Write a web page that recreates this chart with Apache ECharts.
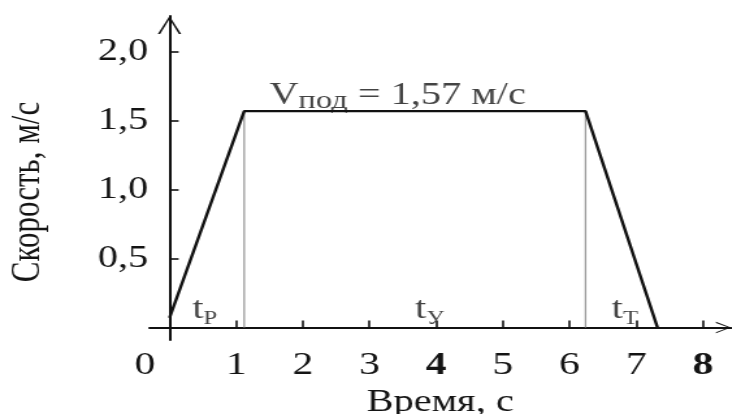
<!DOCTYPE html>
<html>
<head>
<meta charset="utf-8">
<script src="https://cdn.jsdelivr.net/npm/echarts@6/dist/echarts.min.js"></script>
<style>
  html, body { margin: 0; padding: 0; background: #fff; overflow: hidden; }
  #wrap { width: 732px; height: 414px; overflow: hidden; }
  /* the figure is set in a horizontally widened type, so the drawing is stretched on x */
  #chart { width: 563.08px; height: 414px; transform: scale(1.3, 1); transform-origin: 0 0; }
</style>
</head>
<body>
<div id="wrap"><div id="chart"></div></div>
<script>
// Lift speed profile: acceleration, steady motion, braking
const timePoints   = [0, 1.12, 6.24, 7.32];      // s
const speedPoints  = [0.07, 1.57, 1.57, 0];      // m/s
const phaseBounds  = [1.12, 6.24];               // ends of acceleration / start of braking
const steadySpeed  = 1.57;                       // V под, m/s
const phaseNames   = ['Р', 'У', 'Т'];            // t subscripts
const xTickValues  = [1, 2, 3, 4, 5, 6, 7, 8];
const xLabelValues = [0, 1, 2, 3, 4, 5, 6, 7, 8];
const yTickValues  = [0.5, 1.0, 1.5, 2.0];

const FONT = '"Liberation Serif", "Times New Roman", serif';
const INK = '#111';
const TXT = '#141414';

const fmtComma = (v, d) => v.toFixed(d).replace('.', ',');

const profile = timePoints.map((t, i) => [t, speedPoints[i]]);

// chevron arrow head (open arrow), pointing up in its own frame
const chevron = 'path://M0,100 L50,0 L100,100 L90,100 L50,16 L10,100 Z';

const markerSeries = phaseBounds.map(b => ({
  type: 'line',
  data: [[b, 0], [b, steadySpeed]],
  symbol: 'none',
  lineStyle: { color: '#9a9a9a', width: 1.3 },
  silent: true,
  z: 2
}));

const subRich = {
  m:  { fontFamily: FONT, fontSize: 31, color: TXT, lineHeight: 34, verticalAlign: 'bottom' },
  s:  { fontFamily: FONT, fontSize: 25, color: TXT, lineHeight: 34, verticalAlign: 'bottom', padding: [0, 0, -2, 0] },
  t:  { fontFamily: FONT, fontSize: 31, color: TXT, lineHeight: 32, verticalAlign: 'bottom' },
  ts: { fontFamily: FONT, fontSize: 19, color: TXT, lineHeight: 32, verticalAlign: 'bottom', padding: [0, 0, -3, 0] }
};

const phaseLabelX = [0.53, 3.9, 6.83];

const option = {
  backgroundColor: '#fff',
  animation: false,
  grid: { left: 115, right: 0.8, top: 16, bottom: 74, containLabel: false, outerBoundsMode: 'none' },
  xAxis: {
    type: 'value',
    min: -0.3,
    max: 8.42,
    name: 'Время, с',
    nameLocation: 'middle',
    nameGap: 40,
    nameTextStyle: { fontFamily: FONT, fontSize: 31, color: TXT },
    axisLine: {
      onZero: true,
      lineStyle: { color: INK, width: 2 },
      symbol: ['none', chevron],
      symbolSize: [25, 11.5],
      symbolOffset: [0, -5.75]
    },
    axisTick: { show: true, inside: true, length: 7, lineStyle: { color: INK, width: 1.6 }, customValues: xTickValues },
    axisLabel: {
      customValues: xLabelValues,
      margin: 10,
      fontFamily: FONT, fontSize: 32, color: TXT,
      formatter: v => (v === 0 ? '{z|0}' : (v === 4 || v === 8 ? '{b|' + v + '}' : '{n|' + v + '}')),
      rich: {
        n: { fontFamily: FONT, fontSize: 32, color: TXT },
        z: { fontFamily: FONT, fontSize: 32, color: TXT, padding: [0, 38, 0, 0] },
        b: { fontFamily: FONT, fontSize: 32, color: TXT, fontWeight: 'bold' }
      }
    },
    splitLine: { show: false }
  },
  yAxis: {
    type: 'value',
    min: -0.09,
    max: 2.26,
    name: 'Скорость, м/с',
    nameLocation: 'middle',
    nameRotate: 90,
    nameGap: 78,
    nameTextStyle: { fontFamily: FONT, fontSize: 31, color: TXT, padding: [0, 28, 0, 0] },
    axisLine: {
      onZero: true,
      lineStyle: { color: INK, width: 2 },
      symbol: ['none', chevron],
      symbolSize: [20, 18],
      symbolOffset: [0, -9]
    },
    axisTick: { show: true, inside: true, length: 7, lineStyle: { color: INK, width: 1.6 }, customValues: yTickValues },
    axisLabel: {
      customValues: yTickValues,
      margin: 1,
      fontFamily: FONT, fontSize: 31, color: TXT,
      formatter: v => fmtComma(v, 1)
    },
    splitLine: { show: false }
  },
  series: [
    ...markerSeries,
    {
      type: 'line',
      data: profile,
      symbol: 'none',
      lineStyle: { color: INK, width: 2.4 },
      z: 3
    },
    {
      type: 'scatter',
      symbolSize: 0,
      silent: true,
      data: [
        { value: [3.42, 1.69], label: { formatter: '{m|V}{s|под}{m| = ' + fmtComma(steadySpeed, 2) + ' м/с}' } },
        ...phaseNames.map((n, i) => ({
          value: [phaseLabelX[i], 0.13],
          label: { formatter: '{t|t}{ts|' + n + '}' }
        }))
      ],
      label: { show: true, position: 'inside', rich: subRich },
      z: 4
    }
  ]
};

echarts.init(document.getElementById('chart')).setOption(option);
</script>
</body>
</html>
